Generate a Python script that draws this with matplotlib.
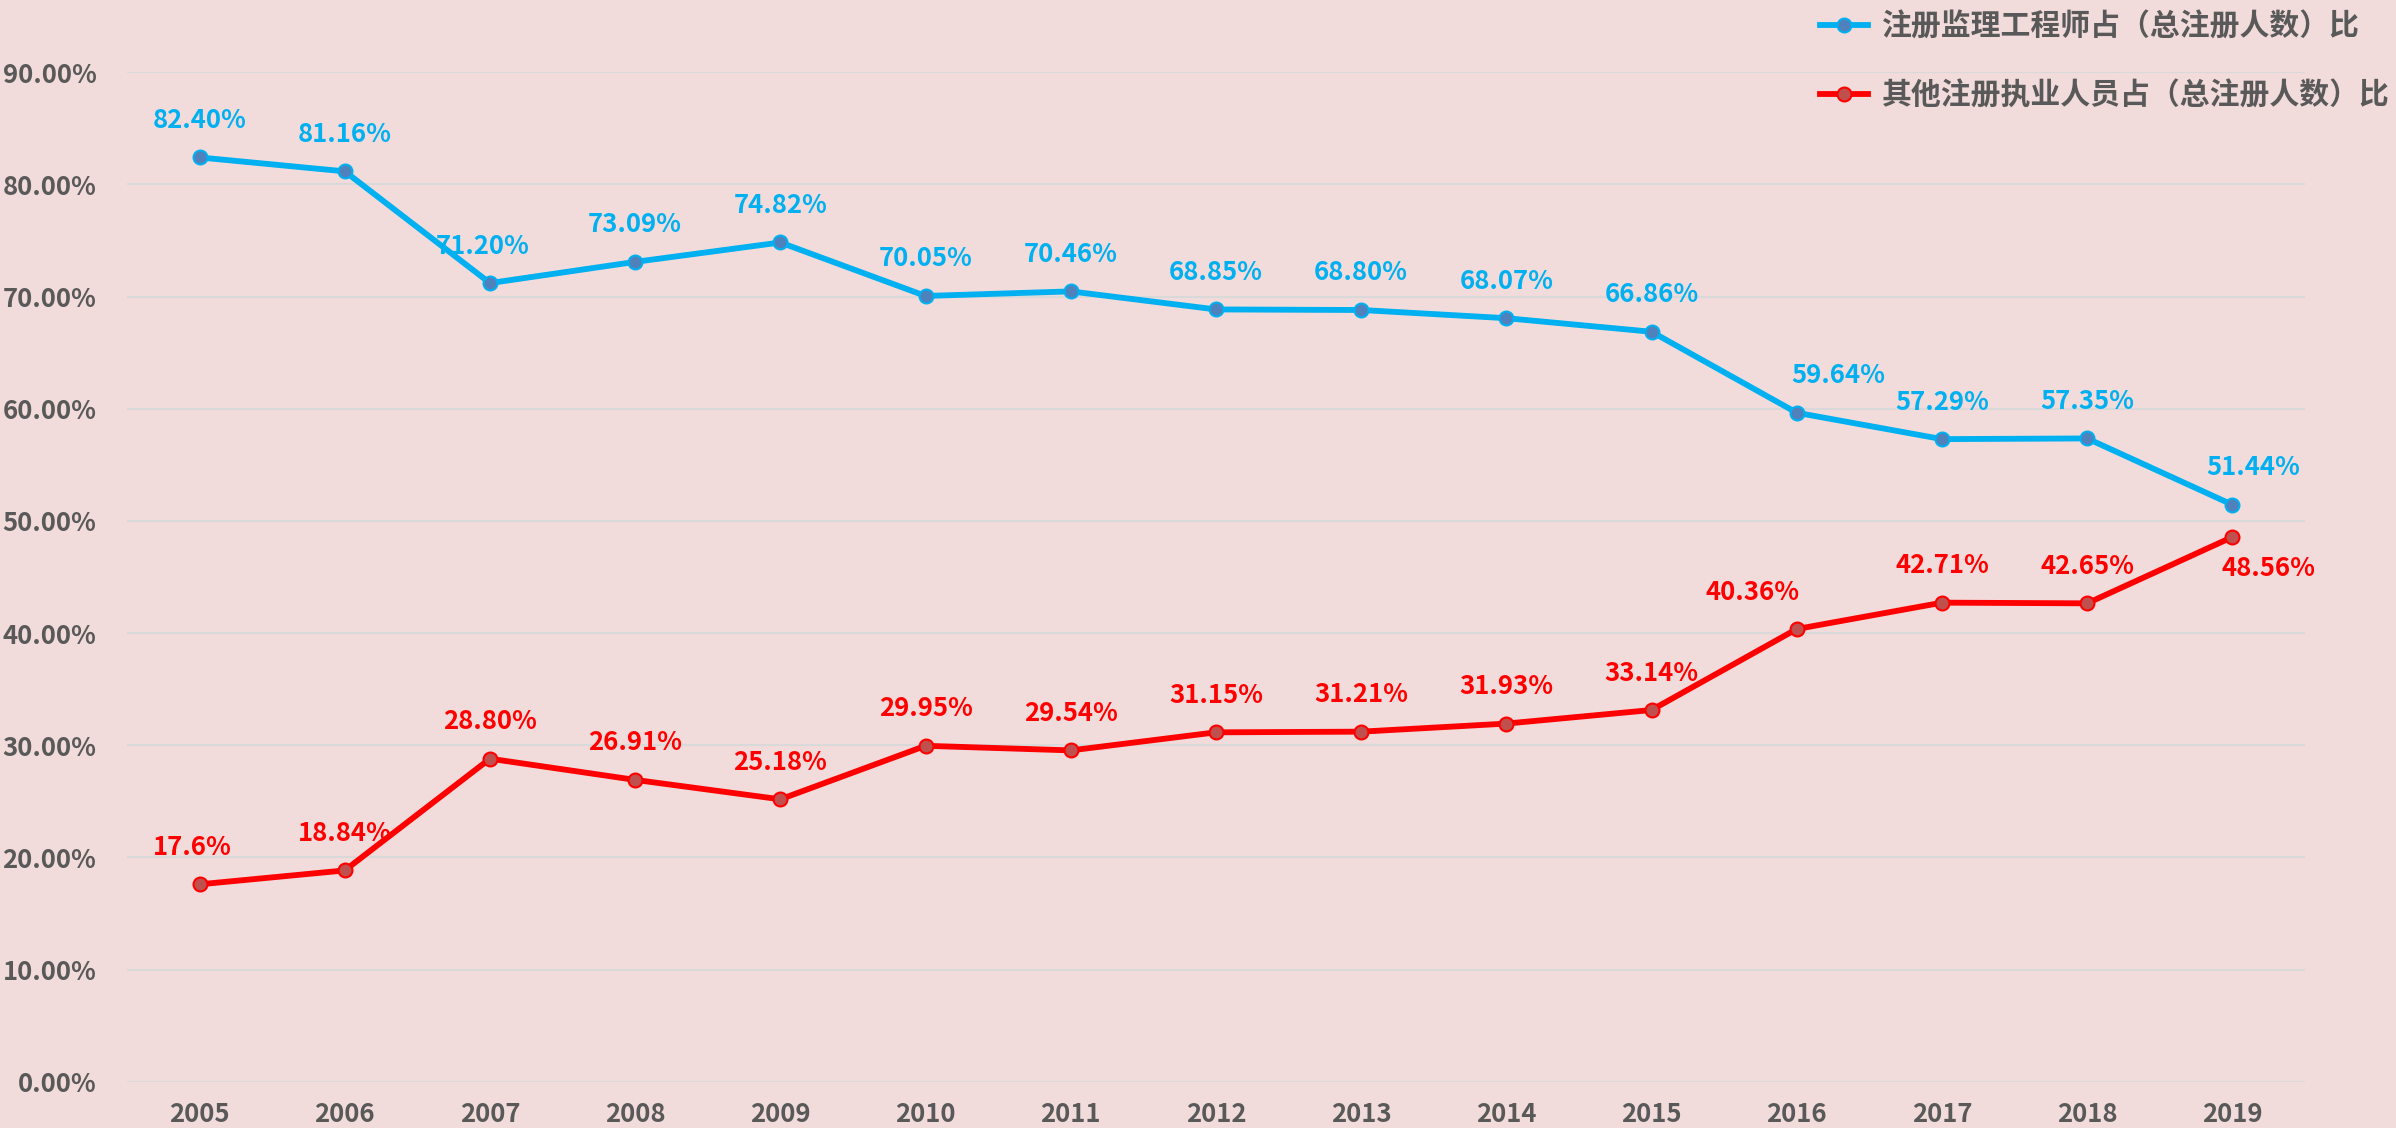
import matplotlib
matplotlib.use("Agg")
import matplotlib.pyplot as plt
from matplotlib.ticker import FuncFormatter

plt.rcParams['font.family'] = ['Noto Sans CJK SC', 'DejaVu Sans']

# Data
years = ['2005', '2006', '2007', '2008', '2009', '2010', '2011', '2012',
         '2013', '2014', '2015', '2016', '2017', '2018', '2019']
supervisor_pct = [82.40, 81.16, 71.20, 73.09, 74.82, 70.05, 70.46, 68.85,
                  68.80, 68.07, 66.86, 59.64, 57.29, 57.35, 51.44]
other_pct = [17.60, 18.84, 28.80, 26.91, 25.18, 29.95, 29.54, 31.15,
             31.21, 31.93, 33.14, 40.36, 42.71, 42.65, 48.56]
supervisor_labels = ['82.40%', '81.16%', '71.20%', '73.09%', '74.82%', '70.05%',
                     '70.46%', '68.85%', '68.80%', '68.07%', '66.86%', '59.64%',
                     '57.29%', '57.35%', '51.44%']
other_labels = ['17.6%', '18.84%', '28.80%', '26.91%', '25.18%', '29.95%',
                '29.54%', '31.15%', '31.21%', '31.93%', '33.14%', '40.36%',
                '42.71%', '42.65%', '48.56%']
name_a = '注册监理工程师占（总注册人数）比'
name_b = '其他注册执业人员占（总注册人数）比'

bg = '#F2DCDB'
blue = '#00B0F0'
red = '#FF0000'
gray = '#595959'

fig = plt.figure(figsize=(23.96, 11.28), dpi=100, facecolor=bg)
ax = fig.add_axes([0.053, 0.041, 0.909, 0.895], facecolor=bg)

x = list(range(len(years)))
ax.plot(x, supervisor_pct, color=blue, lw=4.2, marker='o', ms=10,
        mfc='#4F81BD', mec=blue, mew=1.5, label=name_a, zorder=3)
ax.plot(x, other_pct, color=red, lw=4.2, marker='o', ms=10,
        mfc='#C0504D', mec=red, mew=1.5, label=name_b, zorder=3)

# label nudges (pixels)
dx_a = [0, 0, -7, 0, 0, 0, 0, 0, 0, 0, 0, 42, 0, 0, 21]
dx_b = [-7, 0, 0, 0, 0, 0, 0, 0, 0, 0, 0, -44, 0, 0, 36]
dy_b = [37] * 14 + [-31]

for i in x:
    ax.annotate(supervisor_labels[i], (i, supervisor_pct[i]),
                xytext=(dx_a[i], 37), textcoords='offset pixels',
                ha='center', va='center', color=blue, fontsize=18.5,
                fontweight='bold')
    ax.annotate(other_labels[i], (i, other_pct[i]),
                xytext=(dx_b[i], dy_b[i]), textcoords='offset pixels',
                ha='center', va='center', color=red, fontsize=18.5,
                fontweight='bold')

ax.set_xlim(-0.5, len(years) - 0.5)
ax.set_ylim(0, 90)
ax.set_xticks(x)
ax.set_xticklabels(years)
ax.set_yticks(range(0, 91, 10))
ax.yaxis.set_major_formatter(FuncFormatter(lambda v, p: f'{v:.2f}%'))
ax.grid(axis='y', color='#D9D9D9', lw=1.5)
ax.set_axisbelow(True)
for s in ax.spines.values():
    s.set_visible(False)
ax.tick_params(length=0, colors=gray, labelsize=18.5)
ax.tick_params(axis='y', pad=22)
ax.tick_params(axis='x', pad=14)
for t in ax.get_xticklabels() + ax.get_yticklabels():
    t.set_fontweight('bold')

leg = fig.legend(loc='upper right', bbox_to_anchor=(1.006, 1.008), frameon=False,
                 prop={'size': 21.5, 'weight': 'bold'}, handlelength=1.6,
                 handletextpad=0.45, labelspacing=1.3, borderaxespad=0.3)
for t in leg.get_texts():
    t.set_color(gray)

fig.savefig('out.png', dpi=100, facecolor=bg)
